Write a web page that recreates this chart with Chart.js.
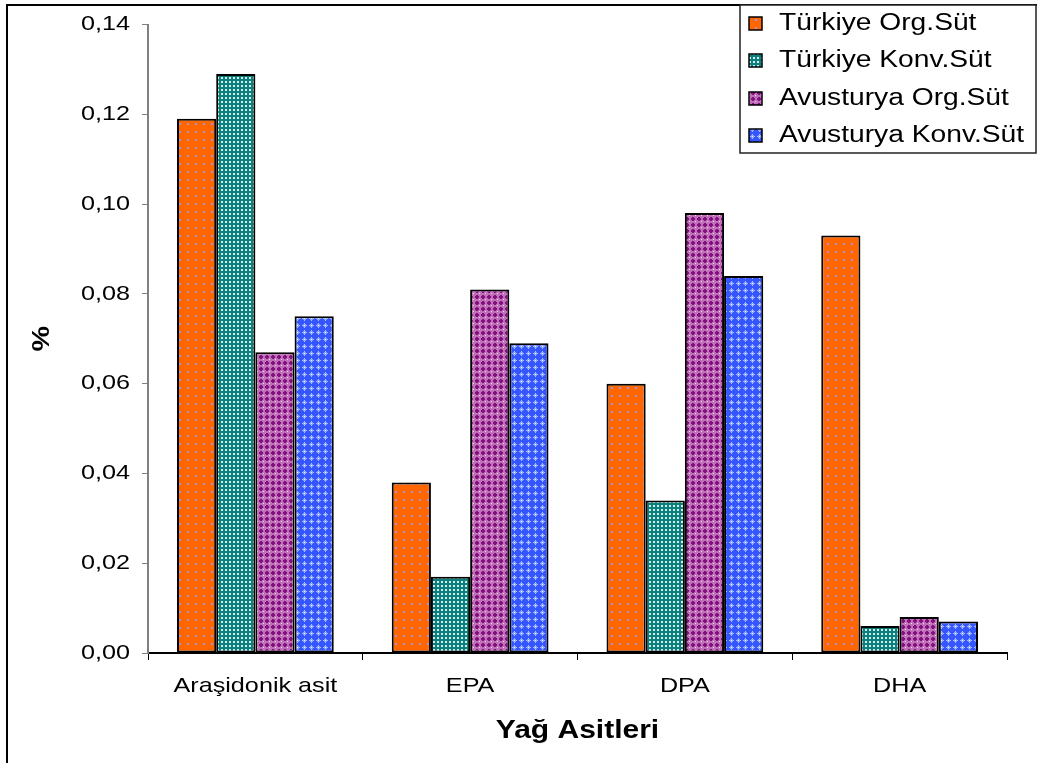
<!DOCTYPE html>
<html>
<head>
<meta charset="utf-8">
<script src="https://cdn.jsdelivr.net/npm/chart.js@4/dist/chart.umd.min.js"></script>
<style>
  html, body { margin: 0; padding: 0; background: #fff; }
  #wrap { position: relative; width: 1039px; height: 763px; }
</style>
</head>
<body>
<div id="wrap"><canvas id="chart" width="1039" height="763"></canvas></div>
<script>
const categories = ['Araşidonik asit', 'EPA', 'DPA', 'DHA'];
const seriesNames = ['Türkiye Org.Süt', 'Türkiye Konv.Süt', 'Avusturya Org.Süt', 'Avusturya Konv.Süt'];
const turkiyeOrg = [0.119, 0.038, 0.060, 0.093];
const turkiyeKonv = [0.129, 0.017, 0.034, 0.006];
const avusturyaOrg = [0.067, 0.081, 0.098, 0.008];
const avusturyaKonv = [0.075, 0.069, 0.084, 0.007];
const yTicks = [0, 0.02, 0.04, 0.06, 0.08, 0.10, 0.12, 0.14];

const FONT = 'Liberation Sans, Arial, sans-serif';
// the source picture has slightly wide lettering
const TEXT_STRETCH = 1.2;

function makePattern(w, h, draw) {
  const c = document.createElement('canvas');
  c.width = w;
  c.height = h;
  const g = c.getContext('2d');
  draw(g);
  return document.getElementById('chart').getContext('2d').createPattern(c, 'repeat');
}

const patterns = [
  // orange with sparse lavender dots
  makePattern(8, 8, (g) => {
    g.fillStyle = '#ff6600'; g.fillRect(0, 0, 8, 8);
    g.fillStyle = '#a392dc'; g.fillRect(3, 3, 2, 2);
  }),
  // teal with fine white grid dots
  makePattern(4, 4, (g) => {
    g.fillStyle = '#0d7f7c'; g.fillRect(0, 0, 4, 4);
    g.fillStyle = '#cfeeec'; g.fillRect(1, 1, 2, 2);
  }),
  // purple crosses on pink
  makePattern(6, 6, (g) => {
    g.fillStyle = '#c070b8'; g.fillRect(0, 0, 6, 6);
    g.fillStyle = '#82107e'; g.fillRect(1, 2, 4, 2); g.fillRect(2, 1, 2, 4);
    g.fillStyle = '#f2d6ea'; g.fillRect(5, 5, 1, 1);
  }),
  // blue with light crosses
  makePattern(7, 7, (g) => {
    g.fillStyle = '#3556ff'; g.fillRect(0, 0, 7, 7);
    g.fillStyle = '#a9c0ff'; g.fillRect(1, 3, 5, 1); g.fillRect(3, 1, 1, 5);
    g.fillStyle = '#8aa2ff'; g.fillRect(2, 2, 3, 3);
    g.fillStyle = '#eef4ff'; g.fillRect(3, 3, 1, 1);
  })
];

const seriesValues = [turkiyeOrg, turkiyeKonv, avusturyaOrg, avusturyaKonv];

const wideText = {
  id: 'wideText',
  beforeDraw(chart) {
    const ctx = chart.ctx;
    if (ctx._wide) return;
    ctx._wide = true;
    const orig = ctx.fillText.bind(ctx);
    ctx.fillText = function (text, x, y, maxWidth) {
      ctx.save();
      ctx.translate(x, y);
      ctx.scale(TEXT_STRETCH, 1);
      orig(text, 0, 0);
      ctx.restore();
    };
  }
};

const frameAndLegend = {
  id: 'frameAndLegend',
  afterDraw(chart) {
    const ctx = chart.ctx;
    ctx.save();
    // outer frame (left + top)
    ctx.strokeStyle = '#000';
    ctx.lineWidth = 2;
    ctx.beginPath();
    ctx.moveTo(7, 763);
    ctx.lineTo(7, 5);
    ctx.lineTo(1037, 5);
    ctx.stroke();

    // legend box
    ctx.fillStyle = '#fff';
    ctx.fillRect(740, 5, 296, 148);
    ctx.lineWidth = 1.5;
    ctx.strokeStyle = '#222';
    ctx.strokeRect(740, 5, 296, 148);

    const rows = [23, 60, 98, 135];
    chart.data.datasets.forEach((ds, i) => {
      const y = rows[i];
      ctx.fillStyle = ds.backgroundColor;
      ctx.fillRect(749, y - 6, 13, 13);
      ctx.lineWidth = 1.5;
      ctx.strokeStyle = '#000';
      ctx.strokeRect(749, y - 6, 13, 13);
      ctx.fillStyle = '#000';
      ctx.font = '23.5px ' + FONT;
      ctx.textAlign = 'left';
      ctx.textBaseline = 'middle';
      ctx.fillText(ds.label, 779, y + 1);
    });
    ctx.restore();
  }
};

new Chart(document.getElementById('chart'), {
  type: 'bar',
  data: {
    labels: categories,
    datasets: seriesNames.map((name, i) => ({
      label: name,
      data: seriesValues[i],
      backgroundColor: patterns[i],
      borderColor: '#000',
      borderWidth: 2,
      borderSkipped: false,
      categoryPercentage: 0.73,
      barPercentage: 1.0
    }))
  },
  options: {
    responsive: false,
    animation: false,
    layout: { padding: { top: 22, right: 32, bottom: 0, left: 0 } },
    plugins: {
      legend: { display: false },
      tooltip: { enabled: false }
    },
    scales: {
      x: {
        grid: { drawOnChartArea: false, drawTicks: true, tickLength: 7, color: '#000', offset: true },
        border: { color: '#000', width: 2 },
        ticks: { font: { family: FONT, size: 21 }, color: '#000', padding: 14, maxRotation: 0 },
        title: {
          display: true,
          text: 'Yağ Asitleri',
          color: '#000',
          font: { family: FONT, size: 25, weight: 'bold' },
          padding: { top: 0, bottom: 17 }
        },
        afterFit(scale) { scale.height = 110; }
      },
      y: {
        min: 0,
        max: 0.14,
        afterBuildTicks(scale) { scale.ticks = yTicks.map((v) => ({ value: v })); },
        grid: { drawOnChartArea: false, drawTicks: true, tickLength: 6, color: '#808080' },
        border: { color: '#808080', width: 2 },
        ticks: {
          font: { family: FONT, size: 21 },
          color: '#000',
          padding: 12,
          callback: (v) => Number(v).toFixed(2).replace('.', ',')
        },
        title: {
          display: true,
          text: '%',
          color: '#000',
          font: { family: FONT, size: 24, weight: 'bold' },
          padding: { top: 28, bottom: 0 }
        },
        afterFit(scale) { scale.width = 148; }
      }
    }
  },
  plugins: [wideText, frameAndLegend]
});
</script>
</body>
</html>
